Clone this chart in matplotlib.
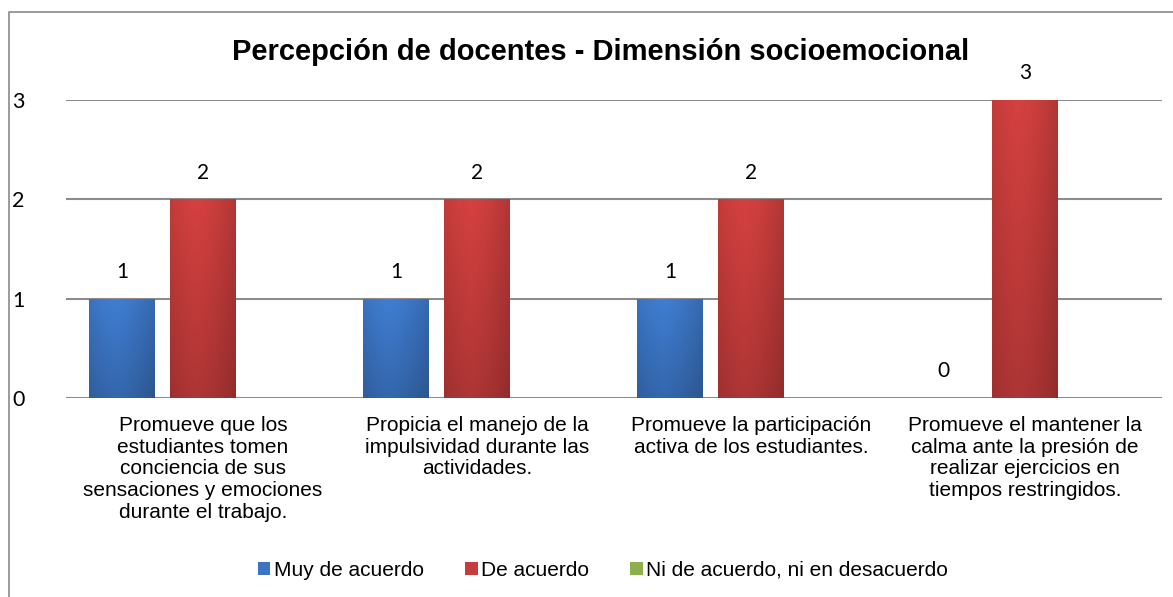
import numpy as np
import matplotlib.pyplot as plt
from matplotlib.patches import Rectangle
from matplotlib.colors import to_rgb

categorias = [
    "Promueve que los\nestudiantes tomen\nconciencia de sus\nsensaciones y emociones\ndurante el trabajo.",
    "Propicia el manejo de la\nimpulsividad durante las\nactividades.",
    "Promueve la participación\nactiva de los estudiantes.",
    "Promueve el mantener la\ncalma ante la presión de\nrealizar ejercicios en\ntiempos restringidos.",
]
series = ["Muy de acuerdo", "De acuerdo", "Ni de acuerdo, ni en desacuerdo"]
muy_de_acuerdo = [1, 1, 1, 0]
de_acuerdo = [2, 2, 2, 3]
ni_acuerdo = [0, 0, 0, 0]
colores = ["#3b74c2", "#c43c3b", "#8db04c"]

fig = plt.figure(figsize=(11.73, 5.97), dpi=100)
ax = fig.add_axes([66 / 1173, 1 - 398 / 597, 1096 / 1173, 298 / 597])

x = np.arange(len(categorias))
w = 0.24
step = 0.296


def shade(bar, color):
    # bevel-like gradient, lighter in the middle, darker on the sides and bottom
    bx, by = bar.get_x(), bar.get_y()
    bw, bh = bar.get_width(), bar.get_height()
    if bh <= 0:
        return
    base = np.array(to_rgb(color))
    h = np.linspace(0, 1, 60)
    horiz = 1.0 - 0.35 * np.abs(h - 0.4) ** 1.5
    v = np.linspace(0, 1, 60)[:, None]
    vert = 0.82 + 0.18 * v
    fac = vert * horiz[None, :]
    img = np.clip(base[None, None, :] * fac[:, :, None] * 1.08, 0, 1)
    im = ax.imshow(img, extent=[bx, bx + bw, by, by + bh], origin="lower",
                   aspect="auto", zorder=3, interpolation="bicubic")
    im.set_clip_path(bar)


valores = [muy_de_acuerdo, de_acuerdo, ni_acuerdo]
for i, (vals, nombre, col) in enumerate(zip(valores, series, colores)):
    bars = ax.bar(x + (i - 1) * step, vals, w, color=col, label=nombre, zorder=2,
                  edgecolor="none")
    for b in bars:
        shade(b, col)
    if i < 2:
        for xi, val in zip(x + (i - 1) * step, vals):
            ax.annotate(str(val), (xi, val), xytext=(0, 12), textcoords="offset points",
                        ha="center", va="bottom", fontsize=15, family="Lato")

ax.set_xlim(-0.5, 3.5)
ax.set_ylim(0, 3)
ax.set_yticks([0, 1, 2, 3])
ax.set_yticklabels(["0", "1", "2", "3"], family="Lato", fontsize=15.5)
ax.set_xticks(x)
ax.set_xticklabels(categorias, family="Liberation Sans", fontsize=15, linespacing=1.18)
ax.tick_params(axis="y", length=0, pad=30)
ax.tick_params(axis="x", length=0, pad=13)
ax.yaxis.grid(True, color="#8c8c8c", linewidth=1.5, zorder=0)
ax.set_axisbelow(True)
for s in ax.spines.values():
    s.set_visible(False)

fig.text(0.512, 1 - 52 / 597, "Percepción de docentes - Dimensión socioemocional",
         ha="center", va="center", fontsize=21, fontweight="bold", family="Liberation Sans")

leg = fig.legend(loc="center", bbox_to_anchor=(0.514, 1 - 570 / 597), ncol=3, frameon=False,
                 prop={"family": "Liberation Sans", "size": 15}, handlelength=0.6,
                 handleheight=0.6, handletextpad=0.15, columnspacing=2.0)

fig.patches.append(Rectangle((9 / 1173, -0.1), 1.2, 1.1 - 12 / 597, transform=fig.transFigure,
                             fill=False, edgecolor="#8a8a8a", linewidth=1.2))

fig.savefig("out.png", dpi=100)
